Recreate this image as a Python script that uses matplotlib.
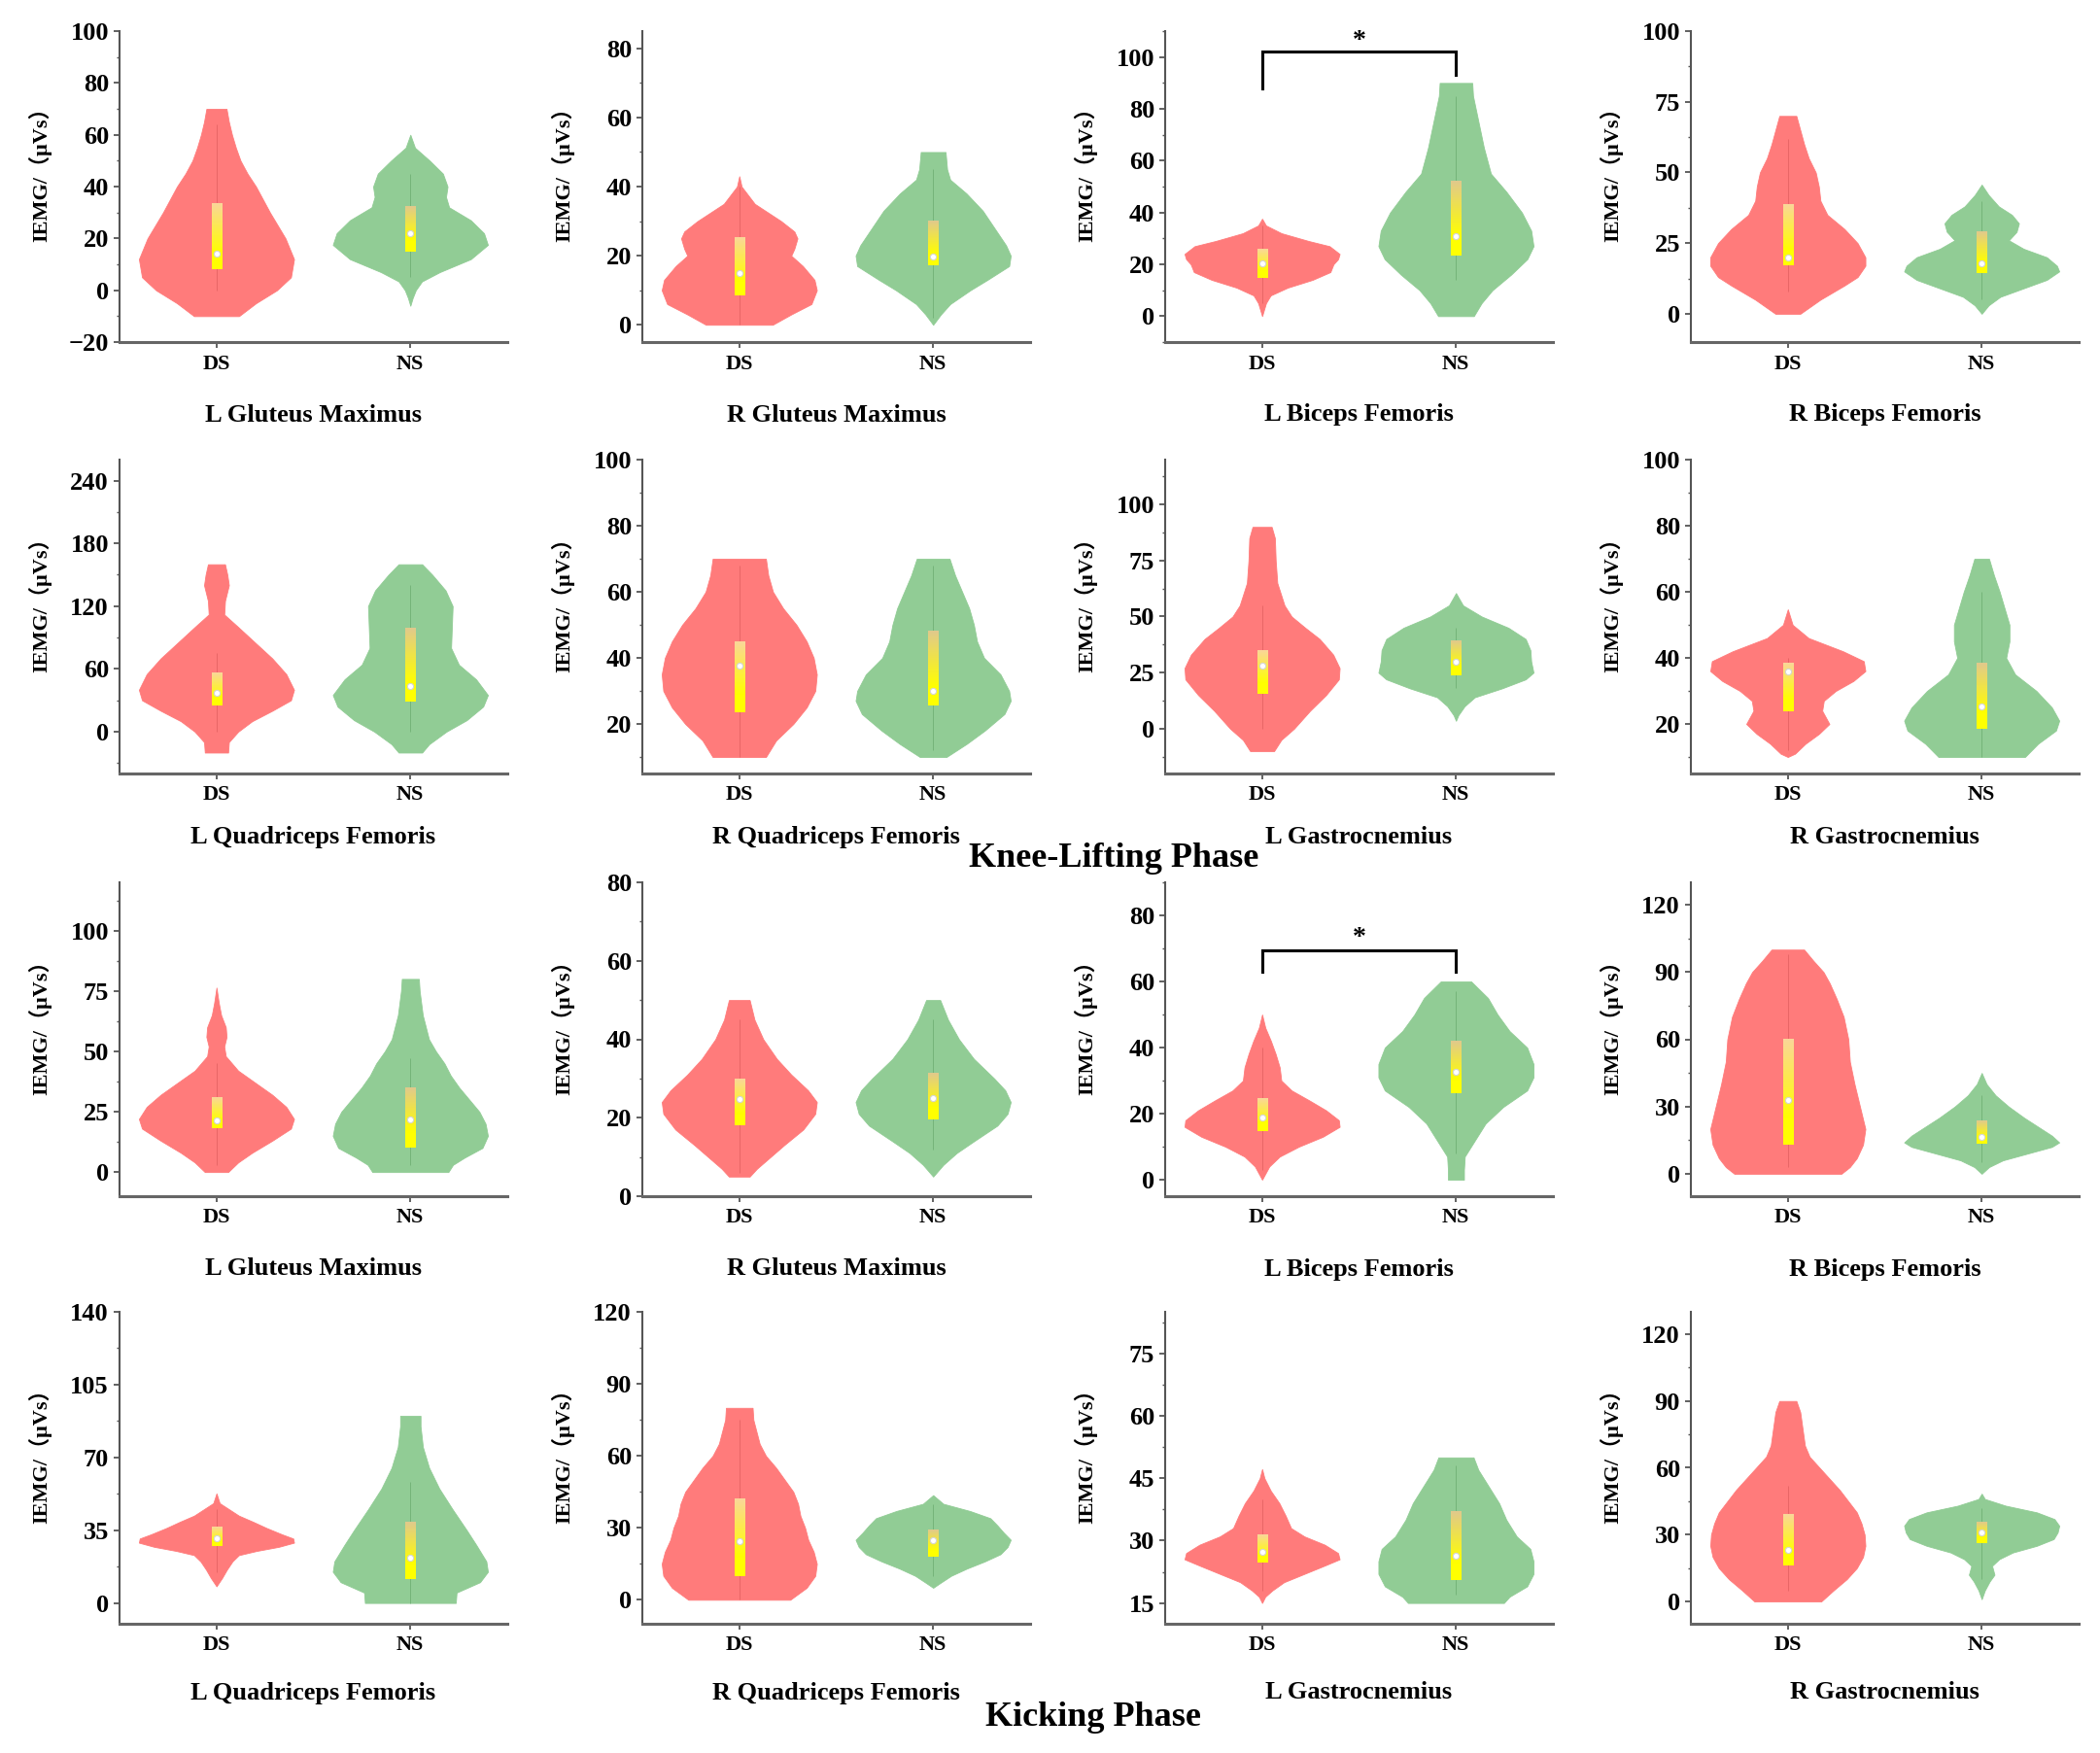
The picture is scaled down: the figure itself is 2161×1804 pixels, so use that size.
import numpy as np
import matplotlib
matplotlib.use('Agg')
import matplotlib.pyplot as plt
from matplotlib.ticker import MultipleLocator

plt.rcParams['font.family'] = ['Liberation Serif', 'Noto Sans CJK SC']
plt.rcParams['font.weight'] = 'bold'

groups = ['DS', 'NS']
muscles = ['L Gluteus Maximus', 'R Gluteus Maximus', 'L Biceps Femoris', 'R Biceps Femoris',
           'L Quadriceps Femoris', 'R Quadriceps Femoris', 'L Gastrocnemius', 'R Gastrocnemius']
phases = ['Knee-Lifting Phase', 'Kicking Phase']

knee_ylims = [(-20, 100), (-5, 85), (-10, 110), (-10, 100), (-40, 260), (5, 100), (-20, 120), (5, 100)]
knee_yticks = [[-20, 0, 20, 40, 60, 80, 100], [0, 20, 40, 60, 80], [0, 20, 40, 60, 80, 100],
               [0, 25, 50, 75, 100], [0, 60, 120, 180, 240], [20, 40, 60, 80, 100],
               [0, 25, 50, 75, 100], [20, 40, 60, 80, 100]]
kick_ylims = [(-10, 120), (0, 80), (-5, 90), (-10, 130), (-10, 140), (-10, 120), (10, 85), (-10, 130)]
kick_yticks = [[0, 25, 50, 75, 100], [0, 20, 40, 60, 80], [0, 20, 40, 60, 80], [0, 30, 60, 90, 120],
               [0, 35, 70, 105, 140], [0, 30, 60, 90, 120], [15, 30, 45, 60, 75], [0, 30, 60, 90, 120]]

# violin outlines: value levels and relative half-width
# box = [q1, q3, mean] for DS and NS, whisk = [low, high]

# ---- knee-lifting phase ----
k1_ds_y = [-10, -5, 0, 5, 12, 20, 30, 40, 45, 50, 55, 60, 65, 70]
k1_ds_w = [0.29, 0.51, 0.78, 0.96, 1.0, 0.89, 0.69, 0.51, 0.40, 0.31, 0.25, 0.20, 0.16, 0.13]
k1_ns_y = [-6, -3, 0, 3.4, 7, 12, 17.5, 22, 27, 32, 36, 40, 45, 50, 55, 60]
k1_ns_w = [0, 0.03, 0.07, 0.15, 0.38, 0.78, 1.0, 0.95, 0.78, 0.50, 0.46, 0.48, 0.42, 0.25, 0.06, 0]
k1_box = [[8, 33.5, 14], [15, 32.4, 22]]
k1_whisk = [[0, 64], [5, 45]]

k2_ds_y = [0, 3, 6, 10, 13, 17, 20, 22, 25, 27, 30, 35, 40, 43]
k2_ds_w = [0.43, 0.67, 0.93, 1.0, 0.97, 0.82, 0.67, 0.71, 0.75, 0.71, 0.54, 0.2, 0.03, 0]
k2_ns_y = [0, 3, 6, 10, 13, 17, 20, 23, 28, 33, 38, 42, 45, 50]
k2_ns_w = [0, 0.1, 0.22, 0.48, 0.7, 0.98, 1.0, 0.94, 0.79, 0.64, 0.43, 0.22, 0.18, 0.16]
k2_box = [[8.4, 25, 15], [17.2, 30, 19.7]]
k2_whisk = [[0, 40], [2, 45]]

k3_ds_y = [0, 5, 8, 11, 14, 17, 20, 22, 24, 27, 29, 32, 35, 37.6]
k3_ds_w = [0, 0.05, 0.11, 0.33, 0.65, 0.88, 0.92, 0.98, 1.0, 0.87, 0.6, 0.25, 0.05, 0]
k3_ns_y = [0, 5, 10, 16, 22, 27, 33, 40, 48, 55, 65, 75, 85, 90]
k3_ns_w = [0.23, 0.33, 0.47, 0.71, 0.92, 1.0, 0.97, 0.85, 0.65, 0.45, 0.36, 0.29, 0.22, 0.21]
k3_box = [[14.7, 25.6, 20.2], [23.4, 52, 30.8]]
k3_whisk = [[5, 35], [14, 85]]

k4_ds_y = [0, 5, 10, 13, 17, 20, 25, 30, 35, 40, 45, 50, 55, 60, 65, 70]
k4_ds_w = [0.16, 0.42, 0.73, 0.9, 1.0, 1.0, 0.9, 0.73, 0.51, 0.42, 0.4, 0.36, 0.27, 0.21, 0.16, 0.11]
k4_ns_y = [0, 3, 6, 9, 12, 15, 17, 20, 23, 26, 29, 32, 35, 38, 42, 45.7]
k4_ns_w = [0, 0.09, 0.24, 0.54, 0.84, 1.0, 0.97, 0.84, 0.54, 0.35, 0.45, 0.48, 0.39, 0.22, 0.09, 0]
k4_box = [[17.1, 38.6, 20], [14.3, 28.8, 17.7]]
k4_whisk = [[8, 62], [5, 40]]

k5_ds_y = [-20, -10, 0, 10, 20, 30, 40, 55, 70, 85, 100, 112, 125, 140, 150, 160]
k5_ds_w = [0.15, 0.16, 0.28, 0.46, 0.72, 0.96, 1.0, 0.9, 0.72, 0.5, 0.28, 0.1, 0.11, 0.16, 0.14, 0.11]
k5_ns_y = [-20, -12, 0, 11, 24, 35, 50, 64, 80, 100, 120, 135, 150, 160]
k5_ns_w = [0.15, 0.24, 0.46, 0.72, 0.93, 0.99, 0.84, 0.62, 0.52, 0.53, 0.54, 0.45, 0.28, 0.15]
k5_box = [[25, 56.4, 37], [28.5, 98.3, 43.7]]
k5_whisk = [[0, 75], [0, 140]]

k6_ds_y = [10, 15, 20, 25, 30, 35, 40, 45, 50, 55, 60, 65, 70]
k6_ds_w = [0.34, 0.47, 0.69, 0.86, 0.97, 0.99, 0.95, 0.86, 0.73, 0.56, 0.43, 0.37, 0.34]
k6_ns_y = [10, 14, 18, 23, 27, 30, 35, 40, 45, 50, 55, 60, 65, 70]
k6_ns_w = [0.17, 0.43, 0.66, 0.91, 0.99, 0.97, 0.86, 0.65, 0.56, 0.52, 0.46, 0.37, 0.28, 0.21]
k6_box = [[23.6, 45, 37.5], [25.5, 48, 30]]
k6_whisk = [[10, 68], [12, 68]]

k7_ds_y = [-10, -5, 0, 8, 15, 22, 27, 33, 40, 45, 50, 55, 65, 75, 85, 90]
k7_ds_w = [0.15, 0.24, 0.4, 0.6, 0.8, 0.96, 0.97, 0.89, 0.72, 0.54, 0.37, 0.28, 0.19, 0.17, 0.16, 0.12]
k7_ns_y = [3.5, 6, 10, 14, 18, 22, 25, 30, 35, 40, 45, 50, 55, 60.5]
k7_ns_w = [0, 0.03, 0.11, 0.24, 0.59, 0.89, 0.99, 0.96, 0.95, 0.89, 0.67, 0.33, 0.09, 0]
k7_box = [[15.7, 35.2, 28], [23.6, 39, 30]]
k7_whisk = [[0, 55], [18, 45]]

k8_ds_y = [10, 11, 14, 17, 20, 24, 27, 30, 33, 36, 39, 42, 46, 50, 54.7]
k8_ds_w = [0, 0.09, 0.22, 0.39, 0.52, 0.43, 0.45, 0.6, 0.82, 0.97, 0.95, 0.69, 0.26, 0.06, 0]
k8_ns_y = [10, 14, 18, 21, 25, 30, 35, 40, 45, 50, 55, 60, 65, 70]
k8_ns_w = [0.53, 0.69, 0.91, 0.95, 0.86, 0.67, 0.41, 0.3, 0.34, 0.34, 0.28, 0.22, 0.15, 0.09]
k8_box = [[23.8, 38.5, 36], [18.5, 38.5, 25.2]]
k8_whisk = [[12, 40], [10, 60]]

# ---- kicking phase ----
c1_ds_y = [0, 4, 8, 13, 18, 22, 27, 32, 37, 42, 48, 52, 56, 60, 65, 70, 76.4]
c1_ds_w = [0.15, 0.28, 0.46, 0.72, 0.96, 1.0, 0.9, 0.72, 0.5, 0.28, 0.12, 0.1, 0.13, 0.12, 0.06, 0.03, 0]
c1_ns_y = [0, 3, 6, 10, 15, 20, 25, 30, 35, 40, 45, 50, 55, 65, 75, 80]
c1_ns_w = [0.49, 0.55, 0.7, 0.93, 1.0, 0.97, 0.89, 0.76, 0.63, 0.52, 0.44, 0.33, 0.24, 0.16, 0.12, 0.11]
c1_box = [[18.2, 31, 21.4], [10.1, 34.7, 21.6]]
c1_whisk = [[3, 45], [3, 47]]

c2_ds_y = [5, 7, 10, 13, 17, 21, 24, 27, 31, 35, 40, 45, 50]
c2_ds_w = [0.13, 0.22, 0.39, 0.56, 0.8, 0.95, 0.97, 0.86, 0.65, 0.47, 0.3, 0.19, 0.13]
c2_ns_y = [5, 8, 11, 14, 18, 21, 24, 27, 30, 35, 40, 45, 50]
c2_ns_w = [0, 0.13, 0.3, 0.52, 0.82, 0.95, 0.99, 0.92, 0.78, 0.52, 0.33, 0.19, 0.09]
c2_box = [[18.2, 30, 24.7], [19.6, 31.3, 25]]
c2_whisk = [[6, 45], [12, 45]]

c3_ds_y = [0, 4, 7, 10, 13, 16, 18, 21, 24, 27, 30, 34, 38, 42, 46, 50]
c3_ds_w = [0, 0.09, 0.22, 0.46, 0.76, 0.97, 0.96, 0.8, 0.59, 0.37, 0.24, 0.22, 0.17, 0.11, 0.04, 0]
c3_ns_y = [0, 3, 7, 12, 17, 22, 27, 31, 35, 40, 45, 50, 55, 60]
c3_ns_w = [0.1, 0.1, 0.11, 0.24, 0.37, 0.59, 0.89, 0.97, 0.97, 0.89, 0.67, 0.52, 0.4, 0.19]
c3_box = [[14.8, 24.6, 18.9], [26.3, 41.9, 32.7]]
c3_whisk = [[3, 40], [8, 57]]

c4_ds_y = [0, 3, 7, 13, 20, 30, 40, 50, 60, 70, 78, 85, 90, 95, 100]
c4_ds_w = [0.69, 0.8, 0.89, 0.97, 1.0, 0.93, 0.86, 0.8, 0.78, 0.72, 0.63, 0.54, 0.46, 0.33, 0.21]
c4_ns_y = [0, 3, 6, 9, 12, 14, 17, 21, 25, 30, 35, 40, 45]
c4_ns_w = [0, 0.09, 0.26, 0.56, 0.86, 0.95, 0.86, 0.69, 0.52, 0.33, 0.17, 0.06, 0]
c4_box = [[12.8, 60, 33], [13.5, 23.8, 16.4]]
c4_whisk = [[3, 98], [5, 35]]

c5_ds_y = [8, 12, 16, 20, 23, 25, 27, 29, 31, 33, 36, 39, 42, 45, 48, 52.7]
c5_ds_w = [0, 0.07, 0.13, 0.2, 0.28, 0.5, 0.78, 0.97, 0.96, 0.82, 0.63, 0.46, 0.28, 0.16, 0.04, 0]
c5_ns_y = [0, 5, 10, 15, 20, 28, 35, 45, 55, 65, 75, 85, 90]
c5_ns_w = [0.58, 0.59, 0.89, 0.99, 0.97, 0.84, 0.72, 0.54, 0.37, 0.24, 0.16, 0.13, 0.13]
c5_box = [[27.5, 36.4, 31.3], [11.7, 39.2, 22]]
c5_whisk = [[15, 45], [0, 58]]

c6_ds_y = [0, 5, 10, 15, 20, 25, 30, 35, 40, 45, 50, 55, 60, 65, 70, 75, 80]
c6_ds_w = [0.65, 0.86, 0.97, 0.99, 0.95, 0.88, 0.84, 0.78, 0.75, 0.69, 0.58, 0.47, 0.34, 0.26, 0.22, 0.18, 0.17]
c6_ns_y = [5, 7, 10, 13, 16, 19, 22, 25, 28, 31, 34, 37, 40, 43.6]
c6_ns_w = [0, 0.09, 0.23, 0.43, 0.66, 0.86, 0.95, 0.99, 0.9, 0.82, 0.73, 0.47, 0.13, 0]
c6_box = [[9.9, 42, 24.3], [18, 29, 25]]
c6_whisk = [[0, 75], [10, 40]]

c7_ds_y = [15, 16.5, 18, 20, 22, 24, 25.5, 27, 29, 31, 33, 36, 39, 42, 45, 47.2]
c7_ds_w = [0, 0.04, 0.13, 0.28, 0.54, 0.8, 0.99, 0.97, 0.8, 0.54, 0.37, 0.3, 0.22, 0.11, 0.03, 0]
c7_ns_y = [15, 16.5, 19, 22, 25, 28, 31, 35, 39, 43, 47, 50]
c7_ns_w = [0.6, 0.67, 0.89, 0.97, 0.97, 0.93, 0.76, 0.63, 0.54, 0.41, 0.28, 0.22]
c7_box = [[24.8, 31.4, 27.2], [20.6, 37, 26.3]]
c7_whisk = [[18, 40], [17, 48]]

c8_ds_y = [0, 5, 10, 15, 20, 25, 30, 35, 40, 45, 50, 55, 60, 65, 70, 75, 80, 85, 90]
c8_ds_w = [0.43, 0.59, 0.76, 0.89, 0.97, 1.0, 0.99, 0.95, 0.89, 0.78, 0.67, 0.54, 0.41, 0.28, 0.22, 0.2, 0.18, 0.16, 0.11]
c8_ns_y = [1, 5, 9, 12, 16, 19, 22, 25, 28, 31, 34, 37, 40, 43, 46, 48.4]
c8_ns_w = [0, 0.04, 0.1, 0.16, 0.13, 0.22, 0.39, 0.69, 0.9, 0.95, 0.97, 0.91, 0.69, 0.3, 0.04, 0]
c8_box = [[16.3, 39.3, 23.1], [26, 35.4, 30.8]]
c8_whisk = [[5, 52], [10, 42]]

# significance brackets: panel index -> (DS leg end, NS leg end, bar level, star level)
knee_sig = {2: (88, 93, 102, 106)}
kick_sig = {2: (62.8, 62.8, 69.4, 73)}

knee_panels = [
    (k1_ds_y, k1_ds_w, k1_ns_y, k1_ns_w, k1_box, k1_whisk),
    (k2_ds_y, k2_ds_w, k2_ns_y, k2_ns_w, k2_box, k2_whisk),
    (k3_ds_y, k3_ds_w, k3_ns_y, k3_ns_w, k3_box, k3_whisk),
    (k4_ds_y, k4_ds_w, k4_ns_y, k4_ns_w, k4_box, k4_whisk),
    (k5_ds_y, k5_ds_w, k5_ns_y, k5_ns_w, k5_box, k5_whisk),
    (k6_ds_y, k6_ds_w, k6_ns_y, k6_ns_w, k6_box, k6_whisk),
    (k7_ds_y, k7_ds_w, k7_ns_y, k7_ns_w, k7_box, k7_whisk),
    (k8_ds_y, k8_ds_w, k8_ns_y, k8_ns_w, k8_box, k8_whisk),
]
kick_panels = [
    (c1_ds_y, c1_ds_w, c1_ns_y, c1_ns_w, c1_box, c1_whisk),
    (c2_ds_y, c2_ds_w, c2_ns_y, c2_ns_w, c2_box, c2_whisk),
    (c3_ds_y, c3_ds_w, c3_ns_y, c3_ns_w, c3_box, c3_whisk),
    (c4_ds_y, c4_ds_w, c4_ns_y, c4_ns_w, c4_box, c4_whisk),
    (c5_ds_y, c5_ds_w, c5_ns_y, c5_ns_w, c5_box, c5_whisk),
    (c6_ds_y, c6_ds_w, c6_ns_y, c6_ns_w, c6_box, c6_whisk),
    (c7_ds_y, c7_ds_w, c7_ns_y, c7_ns_w, c7_box, c7_whisk),
    (c8_ds_y, c8_ds_w, c8_ns_y, c8_ns_w, c8_box, c8_whisk),
]

violin_colors = ['#FF7B7B', '#91CC95']
line_colors = ['#D85858', '#62A466']
box_tops = [(0.98, 0.84, 0.60), (0.88, 0.79, 0.55)]
spine_col = '#555555'

W, H = 2161, 1804
col_left = [123, 661, 1199, 1740]
ax_w = 399
row_span = [(32, 352), (473, 796), (908, 1231), (1350, 1671)]
name_y = [427, 862, 1306, 1742]
phase_pos = [(1146, 884), (1125, 1768)]


def grad_box(ax, x, q1, q3, top_rgb):
    t = np.linspace(0, 1, 80)[:, None]
    t = np.clip((t - 0.25) / 0.75, 0, 1)
    bottom = np.array([1.0, 1.0, 0.0])
    img = (bottom + (np.array(top_rgb) - bottom) * t)[:, None, :]
    ax.imshow(img, extent=[x - 0.026, x + 0.026, q1, q3], origin='lower',
              aspect='auto', zorder=3, interpolation='bilinear')


def draw_panel(ax, panel, ylim, yticks, sig):
    ds_y, ds_w, ns_y, ns_w, box, whisk = panel
    stats = []
    for ys, ws, b in [(ds_y, ds_w, box[0]), (ns_y, ns_w, box[1])]:
        stats.append(dict(coords=np.array(ys, float), vals=np.array(ws, float),
                          mean=b[2], median=b[2], min=ys[0], max=ys[-1]))
    parts = ax.violin(stats, positions=[1, 2], widths=0.8, showmeans=False,
                      showextrema=False, showmedians=False)
    for body, c in zip(parts['bodies'], violin_colors):
        body.set_facecolor(c)
        body.set_edgecolor(c)
        body.set_linewidth(0.6)
        body.set_joinstyle('round')
        body.set_alpha(1)
        body.set_zorder(1)
    for i, x in enumerate([1, 2]):
        q1, q3, mu = box[i]
        ax.vlines(x, whisk[i][0], whisk[i][1], color=line_colors[i], lw=0.7,
                  alpha=0.6, zorder=2)
        grad_box(ax, x, q1, q3, box_tops[i])
        ax.plot(x, mu, 'o', ms=4.5, mfc='white', mec='#d5d5d5', mew=0.8, zorder=4)

    if sig is not None:
        l1, l2, top, star = sig
        ax.plot([1, 1, 2, 2], [l1, top, top, l2], color='black', lw=2.2,
                solid_joinstyle='miter', zorder=5, clip_on=False)
        ax.text(1.5, star, '*', ha='center', va='center', fontsize=20,
                fontweight='bold', zorder=5)

    ax.set_xlim(0.5, 2.5)
    ax.set_ylim(*ylim)
    ax.set_xticks([1, 2])
    ax.set_xticklabels(groups, fontsize=16, fontweight='bold')
    ax.set_yticks(yticks)
    ax.set_yticklabels([str(v) if v >= 0 else '\u2212' + str(-v) for v in yticks],
                       fontsize=19, fontweight='bold')
    ax.yaxis.set_minor_locator(MultipleLocator((yticks[1] - yticks[0]) / 2))
    for s in ['top', 'right']:
        ax.spines[s].set_visible(False)
    ax.spines['left'].set_color(spine_col)
    ax.spines['left'].set_linewidth(1.5)
    ax.spines['bottom'].set_color('#666666')
    ax.spines['bottom'].set_linewidth(2.2)
    ax.tick_params(axis='y', which='major', direction='out', length=4, width=1.3,
                   color=spine_col, pad=4)
    ax.tick_params(axis='y', which='minor', direction='out', length=2.2, width=1.0,
                   color=spine_col)
    ax.tick_params(axis='x', direction='out', length=4, width=1.3, color=spine_col, pad=5)
    ax.text(-0.205, 0.555, 'IEMG/（μVs）', rotation=90, ha='center', va='center',
            fontsize=16, fontweight='bold', transform=ax.transAxes,
            family=['Liberation Serif', 'Noto Sans CJK SC'])


fig = plt.figure(figsize=(W / 100, H / 100), dpi=100)

all_panels = [(knee_panels, knee_ylims, knee_yticks, knee_sig, 0),
              (kick_panels, kick_ylims, kick_yticks, kick_sig, 2)]
for panels, ylims, yticks, sigs, row0 in all_panels:
    for i, panel in enumerate(panels):
        r = row0 + i // 4
        c = i % 4
        top, bot = row_span[r]
        ax = fig.add_axes([col_left[c] / W, 1 - bot / H, ax_w / W, (bot - top) / H])
        draw_panel(ax, panel, ylims[i], yticks[i], sigs.get(i))
        fig.text((col_left[c] + ax_w / 2) / W, 1 - name_y[r] / H, muscles[i],
                 ha='center', va='center', fontsize=19, fontweight='bold')

for title, (px, py) in zip(phases, phase_pos):
    fig.text(px / W, 1 - py / H, title, ha='center', va='center', fontsize=26,
             fontweight='bold')

fig.savefig('out.png', dpi=100)
